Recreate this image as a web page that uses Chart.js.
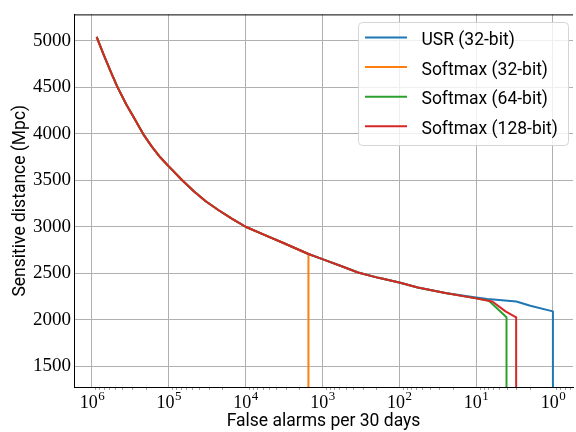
<!DOCTYPE html>
<html>
<head>
<meta charset="utf-8">
<script src="https://cdn.jsdelivr.net/npm/chart.js@4.4.0/dist/chart.umd.min.js"></script>
<style>
  html, body { margin: 0; padding: 0; background: #fff; }
  #wrap { width: 576px; height: 432px; position: relative; }
</style>
</head>
<body>
<div id="wrap"><canvas id="c" width="576" height="432"></canvas></div>
<script>
// Series names and colours
const seriesLabels = ['USR (32-bit)', 'Softmax (32-bit)', 'Softmax (64-bit)', 'Softmax (128-bit)'];
const seriesColors = ['#1f77b4', '#ff7f0e', '#2ca02c', '#d62728'];

// Part of the ROC curve that all four models share (false alarms per 30 days, distance in Mpc)
const sharedAlarms   = [8.67e5, 7.08e5, 5.62e5, 4.63e5, 3.55e5, 2.75e5, 2.16e5, 1.66e5, 1.29e5, 1.0e5,
                        6.68e4, 4.68e4, 3.3e4, 2.24e4, 1.51e4, 1.0e4, 5.89e3, 3.16e3, 1.52e3, 1.0e3,
                        562, 344, 186, 100, 57.5, 25.1, 10.0];
const sharedDistance = [5043, 4858, 4660, 4500, 4314, 4154, 4000, 3863, 3748, 3650,
                        3500, 3380, 3275, 3178, 3088, 3000, 2918, 2822, 2707, 2651,
                        2575, 2507, 2450, 2400, 2346, 2288, 2229];

// Tails where the models separate; each ends by dropping to zero sensitivity
const usrTailAlarms = [10.0, 7.1, 2.99, 1.97, 1.0, 1.0];
const usrTailDistance = [2239, 2222, 2196, 2150, 2089, 0];
const sm32TailAlarms = [1.52e3];
const sm32TailDistance = [0];
const sm64TailAlarms = [6.8, 4.02, 4.02];
const sm64TailDistance = [2204, 2025, 0];
const sm128TailAlarms = [6.15, 4.14, 3.01, 3.01];
const sm128TailDistance = [2196, 2089, 2025, 0];

// Axis ranges and tick values
const xMin = 0.548, xMax = 1.71e6;
const yMin = 1275, yMax = 5286;
const xDecades = [0, 1, 2, 3, 4, 5, 6];
const yTickValues = [1500, 2000, 2500, 3000, 3500, 4000, 4500, 5000];

function toPoints(xs, ys) { return xs.map((x, i) => ({ x: x, y: ys[i] })); }

const usrData   = toPoints(sharedAlarms.slice(0, 26).concat(usrTailAlarms), sharedDistance.slice(0, 26).concat(usrTailDistance));
const sm32Data  = toPoints(sharedAlarms.slice(0, 19).concat(sm32TailAlarms), sharedDistance.slice(0, 19).concat(sm32TailDistance));
const sm64Data  = toPoints(sharedAlarms.concat(sm64TailAlarms), sharedDistance.concat(sm64TailDistance));
const sm128Data = toPoints(sharedAlarms.concat(sm128TailAlarms), sharedDistance.concat(sm128TailDistance));

const allData = [usrData, sm32Data, sm64Data, sm128Data];

function isDecade(v) {
  if (!(v > 0)) return false;
  const l = Math.log10(v);
  return Math.abs(l - Math.round(l)) < 1e-9;
}

// Frame top edge, minor ticks and 10^n labels on the x axis
const axisDecor = {
  id: 'axisDecor',
  afterDraw(chart) {
    const ctx = chart.ctx;
    const area = chart.chartArea;
    const xs = chart.scales.x;
    ctx.save();
    // top spine
    ctx.strokeStyle = '#000';
    ctx.lineWidth = 1;
    ctx.beginPath();
    ctx.moveTo(area.left, area.top + 0.5);
    ctx.lineTo(area.right, area.top + 0.5);
    ctx.stroke();
    // minor ticks
    ctx.strokeStyle = '#777';
    ctx.lineWidth = 0.7;
    for (let k = -1; k <= 6; k++) {
      for (let m = 2; m <= 9; m++) {
        const v = m * Math.pow(10, k);
        if (v < xMin || v > xMax) continue;
        const px = Math.round(xs.getPixelForValue(v)) + 0.5;
        ctx.beginPath();
        ctx.moveTo(px, area.bottom + 1);
        ctx.lineTo(px, area.bottom + 3);
        ctx.stroke();
      }
    }
    // decade labels
    ctx.fillStyle = '#000';
    ctx.textBaseline = 'alphabetic';
    ctx.textAlign = 'left';
    xDecades.forEach(k => {
      const px = xs.getPixelForValue(Math.pow(10, k));
      ctx.font = '18px "Liberation Serif"';
      const wb = ctx.measureText('10').width;
      ctx.font = '13px "Liberation Serif"';
      const we = ctx.measureText(String(k)).width;
      const start = px - (wb + we) / 2;
      ctx.font = '18px "Liberation Serif"';
      ctx.fillText('10', start, 407.5);
      ctx.font = '13px "Liberation Serif"';
      ctx.fillText(String(k), start + wb + 0.5, 400);
    });
    ctx.restore();
  }
};

// Framed legend in the upper right corner
const boxLegend = {
  id: 'boxLegend',
  afterDraw(chart) {
    const ctx = chart.ctx;
    ctx.save();
    ctx.beginPath();
    ctx.roundRect(358.5, 22.5, 210, 123, 4);
    ctx.fillStyle = 'rgba(255,255,255,0.8)';
    ctx.fill();
    ctx.strokeStyle = '#d5d5d5';
    ctx.lineWidth = 1;
    ctx.stroke();
    const rows = [45, 74.6, 104.2, 133.8];
    ctx.font = '17.5px Roboto';
    ctx.textBaseline = 'alphabetic';
    ctx.textAlign = 'left';
    chart.data.datasets.forEach((ds, i) => {
      const y = rows[i] - 7.5;
      ctx.strokeStyle = ds.borderColor;
      ctx.lineWidth = 2;
      ctx.beginPath();
      ctx.moveTo(365, y);
      ctx.lineTo(407, y);
      ctx.stroke();
      ctx.fillStyle = '#000';
      ctx.fillText(ds.label, 421.5, rows[i]);
    });
    ctx.restore();
  }
};

new Chart(document.getElementById('c'), {
  type: 'scatter',
  data: {
    datasets: allData.map((d, i) => ({
      label: seriesLabels[i],
      data: d,
      showLine: true,
      borderColor: seriesColors[i],
      backgroundColor: seriesColors[i],
      borderWidth: 2,
      borderJoinStyle: 'round',
      pointRadius: 0,
      tension: 0,
      order: 3 - i
    }))
  },
  options: {
    responsive: false,
    animation: false,
    devicePixelRatio: 1,
    layout: { padding: { top: 12, right: 0, left: 0, bottom: 0 } },
    plugins: { legend: { display: false }, tooltip: { enabled: false } },
    scales: {
      x: {
        type: 'logarithmic',
        reverse: true,
        min: xMin,
        max: xMax,
        afterFit: s => { s.height = 45; },
        border: { display: true, color: '#000', width: 1 },
        grid: {
          color: c => (c.tick && isDecade(c.tick.value)) ? '#b0b0b0' : 'rgba(0,0,0,0)',
          lineWidth: 1,
          drawTicks: false
        },
        ticks: { callback: () => '', autoSkip: false, maxRotation: 0 },
        title: {
          display: true,
          text: 'False alarms per 30 days',
          color: '#000',
          font: { family: 'Roboto', size: 17.5 },
          padding: { top: 0, bottom: 0 }
        }
      },
      y: {
        type: 'linear',
        min: yMin,
        max: yMax,
        afterBuildTicks: s => { s.ticks = yTickValues.map(v => ({ value: v })); },
        afterFit: s => { s.width = 74; },
        border: { display: true, color: '#000', width: 1 },
        grid: { color: '#b0b0b0', lineWidth: 1, drawTicks: false },
        ticks: {
          color: '#000',
          padding: 3,
          autoSkip: false,
          callback: v => String(v),
          font: { family: 'Liberation Serif', size: 19 }
        },
        title: {
          display: true,
          text: 'Sensitive distance (Mpc)',
          color: '#000',
          font: { family: 'Roboto', size: 17.5 },
          padding: { top: 10, bottom: 0 }
        }
      }
    }
  },
  plugins: [axisDecor, boxLegend]
});
</script>
</body>
</html>
